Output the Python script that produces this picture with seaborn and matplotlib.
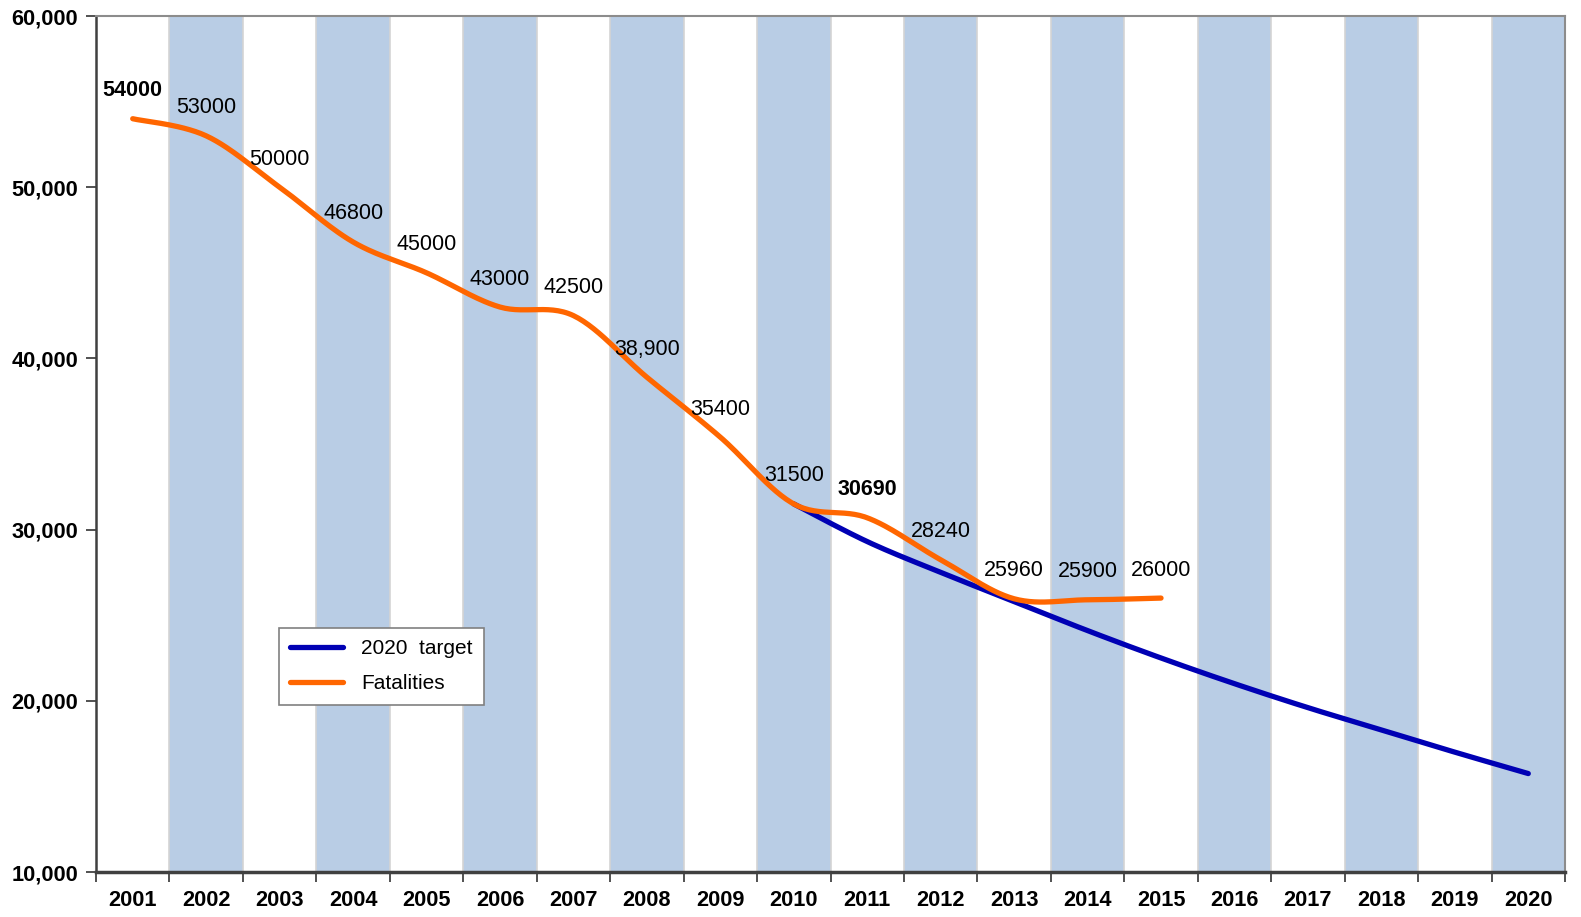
import numpy as np
import pandas as pd
import seaborn as sns
import matplotlib.pyplot as plt
from matplotlib.ticker import FuncFormatter

# Datos
years = [str(y) for y in range(2001, 2021)]
fatal_years = years[:15]
fatalities = [54000, 53000, 50000, 46800, 45000, 43000, 42500, 38900, 35400,
              31500, 30690, 28240, 25960, 25900, 26000]
fatal_labels = ["54000", "53000", "50000", "46800", "45000", "43000", "42500",
                "38,900", "35400", "31500", "30690", "28240", "25960", "25900", "26000"]
bold_labels = ["54000", "30690"]
target_years = years[9:]
target = [31500, 29300, 27500, 25800, 24100, 22500, 21000, 19600, 18300, 17000, 15750]

ORANGE = "#FF6600"
BLUE = "#0000B4"
BAND = "#B9CDE5"


def suavizar(x, y, n=30):
    # curva tipo "línea suavizada" de Excel (Catmull-Rom)
    x = np.asarray(x, float)
    y = np.asarray(y, float)
    px = np.concatenate([[x[0]], x, [x[-1]]])
    py = np.concatenate([[y[0]], y, [y[-1]]])
    xs, ys = [], []
    t = np.linspace(0, 1, n)
    for i in range(1, len(px) - 2):
        p0, p1, p2, p3 = [np.array([px[j], py[j]]) for j in (i - 1, i, i + 1, i + 2)]
        c1 = p1 + (p2 - p0) / 6
        c2 = p2 - (p3 - p1) / 6
        pts = ((1 - t) ** 3)[:, None] * p1 + (3 * (1 - t) ** 2 * t)[:, None] * c1 \
            + (3 * (1 - t) * t ** 2)[:, None] * c2 + (t ** 3)[:, None] * p2
        xs.extend(pts[:, 0])
        ys.extend(pts[:, 1])
    return np.array(xs), np.array(ys)


sns.set_theme(style="white")
plt.rcParams['font.family'] = ['Liberation Sans', 'DejaVu Sans']
plt.rcParams['text.color'] = 'black'
plt.rcParams['xtick.labelcolor'] = 'black'
plt.rcParams['ytick.labelcolor'] = 'black'

fig = plt.figure(figsize=(15.81, 9.17), dpi=100)
ax = fig.add_axes([96 / 1581, 1 - 872 / 917, 1469 / 1581, 856 / 917])

# franjas alternas
for i in range(1, len(years), 2):
    ax.axvspan(i - 0.5, i + 0.5, facecolor=BAND, edgecolor="#d4d4d4", linewidth=1.2, zorder=0)

x_f = [years.index(y) for y in fatal_years]
x_t = [years.index(y) for y in target_years]
sx_t, sy_t = suavizar(x_t, target)
sx_f, sy_f = suavizar(x_f, fatalities)

df_t = pd.DataFrame({"x": sx_t, "y": sy_t})
df_f = pd.DataFrame({"x": sx_f, "y": sy_f})
sns.lineplot(data=df_t, x="x", y="y", sort=False, color=BLUE, linewidth=3.8,
             label="2020  target", ax=ax, zorder=3, solid_capstyle="round")
sns.lineplot(data=df_f, x="x", y="y", sort=False, color=ORANGE, linewidth=3.8,
             label="Fatalities", ax=ax, zorder=4, solid_capstyle="round")

for xi, v, lab in zip(x_f, fatalities, fatal_labels):
    ax.annotate(lab, (xi, v), xytext=(0, 28), textcoords="offset pixels",
                ha="center", va="center", fontsize=15.5,
                fontweight="bold" if lab in bold_labels else "normal", zorder=5)

ax.set_xlim(-0.5, len(years) - 0.5)
ax.set_ylim(10000, 60000)
ax.set_yticks(range(10000, 60001, 10000))
ax.yaxis.set_major_formatter(FuncFormatter(lambda v, p: f"{int(v):,}"))
ax.set_xticks(range(len(years)))
ax.set_xticklabels(years)
ax.set_xticks(np.arange(-0.5, len(years)), minor=True)
ax.tick_params(axis="x", which="major", length=0, pad=13, labelsize=15.7)
ax.tick_params(axis="x", which="minor", length=7, width=1.2, color="#333333", direction="out")
ax.tick_params(axis="y", length=7, width=1.2, color="#333333", direction="out", labelsize=15.7, pad=6)
ax.tick_params(left=True, bottom=True, which="both")
for lab in ax.get_xticklabels() + ax.get_yticklabels():
    lab.set_fontweight("bold")
ax.set_xlabel("")
ax.set_ylabel("")

for s in ["top", "right"]:
    ax.spines[s].set_color("#8c8c8c")
    ax.spines[s].set_linewidth(1.5)
ax.spines["left"].set_color("#404040")
ax.spines["left"].set_linewidth(1.8)
ax.spines["bottom"].set_color("#404040")
ax.spines["bottom"].set_linewidth(2.5)

leg = ax.legend(loc="upper left", bbox_to_anchor=((279 - 96) / 1469, (872 - 628) / 856),
                fontsize=15, frameon=True, fancybox=False, framealpha=1,
                borderpad=0.55, handlelength=2.5, labelspacing=0.75, handletextpad=0.9,
                borderaxespad=0)
leg.get_frame().set_edgecolor("#808080")
leg.get_frame().set_facecolor("white")
leg.get_frame().set_linewidth(1.2)

plt.savefig("out.png", dpi=100)
plt.close()
